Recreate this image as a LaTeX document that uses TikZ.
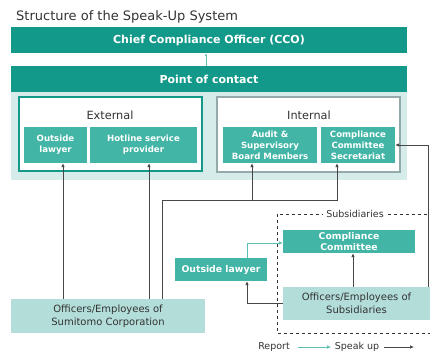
\documentclass[tikz,border=0pt]{standalone}
\usepackage{fontspec}
\setmainfont{DejaVu Sans}
\usetikzlibrary{arrows.meta}
\definecolor{dteal}{HTML}{13998A}
\definecolor{mteal}{HTML}{42B5A6}
\definecolor{lpanel}{HTML}{D6ECEB}
\definecolor{lbox}{HTML}{B3DDD9}
\definecolor{gborder}{HTML}{94AAAA}
\definecolor{ink}{HTML}{333333}
\definecolor{rteal}{HTML}{5CC0B5}
\tikzset{
  bar/.style={fill=dteal,text=white,font=\bfseries\fontsize{11}{12}\selectfont,inner sep=0,minimum width=396pt,minimum height=26pt},
  tbox/.style={fill=mteal,text=white,font=\bfseries\fontsize{8.6}{11.2}\selectfont,align=center,inner sep=0,minimum height=36pt},
  lbx/.style={fill=lbox,text=ink,font=\fontsize{10}{12.5}\selectfont,align=center,inner sep=0},
  spk/.style={draw=ink!90,line width=0.9pt,-{Latex[length=4pt,width=3.6pt]}},
  rpt/.style={draw=rteal,line width=0.9pt,-{Latex[length=4pt,width=3.6pt]}},
  lbl/.style={text=ink,inner sep=0}
}
\begin{document}
\begin{tikzpicture}[x=1pt,y=-1pt]
\useasboundingbox (0,0) rectangle (430,353);
\clip (0,0) rectangle (430,353);
\node[lbl,anchor=west,font=\fontsize{13}{14}\selectfont] (title) at (16,17) {Structure of the Speak-Up System};
\node[bar] (cco) at (209,40) {Chief Compliance Officer (CCO)};
\fill[lpanel] (11,92) rectangle (407,180);
\node[bar] (poc) at (209,79) {Point of contact};
\node[draw=dteal,line width=2pt,fill=white,minimum width=183pt,minimum height=74pt,inner sep=0] (ext) at (110.5,134) {};
\node[draw=gborder,line width=2pt,fill=white,minimum width=183pt,minimum height=75pt,inner sep=0] (int) at (308.5,134.5) {};
\node[lbl,font=\fontsize{11.3}{13}\selectfont] (extl) at (110,115) {External};
\node[lbl,font=\fontsize{11.3}{13}\selectfont] (intl) at (309,115) {Internal};
\node[tbox,minimum width=63pt] (ol) at (55.5,145) {Outside\\lawyer};
\node[tbox,minimum width=107pt] (hsp) at (143.5,145) {Hotline service\\provider};
\node[tbox,minimum width=94pt] (asb) at (270,145) {Audit \&\\Supervisory\\Board Members};
\node[tbox,minimum width=74pt] (ccs) at (358,145) {Compliance\\Committee\\Secretariat};
\node[lbx,minimum width=194pt,minimum height=34pt] (osc) at (108,316) {Officers/Employees of\\Sumitomo Corporation};
\draw[dashed,ink,line width=0.5pt] (277,214) rectangle (440,333);
\node[lbl,fill=white,inner xsep=3pt,font=\fontsize{9.5}{11}\selectfont] (subl) at (355,214) {Subsidiaries};
\node[tbox,minimum width=92pt,minimum height=23pt,font=\bfseries\fontsize{9.3}{10.5}\selectfont] (sol) at (221,269.5) {Outside lawyer};
\node[tbox,minimum width=132pt,minimum height=23pt,font=\bfseries\fontsize{9.3}{10.5}\selectfont] (scc) at (349,241.5) {Compliance\\Committee};
\node[lbx,minimum width=147pt,minimum height=33pt] (soe) at (356.5,303.5) {Officers/Employees of\\Subsidiaries};
% connectors
\draw[rpt,line width=0.7pt,-{Latex[length=3pt,width=2.5pt]}] (poc.north -| 206,0) -- (cco.south -| 206,0);
\draw[spk] (osc.north -| 63,0) -- (ol.south -| 63,0);
\draw[spk] (osc.north -| 149,0) -- (hsp.south -| 149,0);
\coordinate (j1) at (162,200);
\coordinate (j2) at (252,200);
\coordinate (j3) at (337,200);
\draw[spk] (osc.north -| j1) -- (j1) -- (j3) -- (ccs.south -| j3);
\draw[spk] (j2) -- (asb.south -| j2);
\coordinate (r1) at (428,145);
\draw[spk] (soe.north -| r1) -- (r1) -- (ccs.east);
\draw[spk] (soe.north -| 353,0) -- (scc.south -| 353,0);
\coordinate (s1) at (247,303.5);
\draw[spk] (soe.west) -- (s1) -- (sol.south -| s1);
\coordinate (s2) at (247,243);
\draw[rpt] (sol.north -| s2) -- (s2) -- (scc.west |- s2);
% legend
\node[lbl,font=\fontsize{9.5}{11}\selectfont] (rep) at (274,347) {Report};
\coordinate (la) at (298,347);
\coordinate (lb) at (331,347);
\draw[rpt] (la) -- (lb);
\node[lbl,font=\fontsize{9.5}{11}\selectfont] (spu) at (357,347) {Speak up};
\coordinate (lc) at (384,347);
\coordinate (ld) at (414,347);
\draw[spk] (lc) -- (ld);
\end{tikzpicture}
\end{document}
